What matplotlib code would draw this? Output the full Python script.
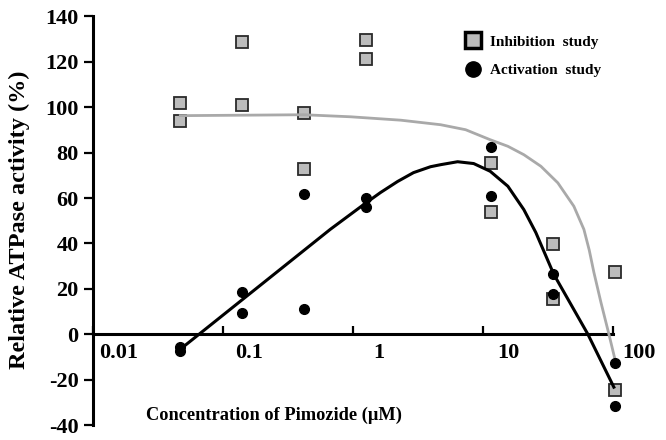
import numpy as np
import matplotlib
matplotlib.use("Agg")
import matplotlib.pyplot as plt
from matplotlib.ticker import NullLocator
from matplotlib.transforms import ScaledTranslation

# Concentrations (uM) where the measurements sit
conc = [0.047, 0.14, 0.42, 1.27, 11.5, 34.5, 104]

# Inhibition study (two replicates per concentration)
inhib_a = [101.8, 128.9, 97.4, 129.7, 75.5, 39.6, 27.4]
inhib_b = [93.8, 100.8, 72.8, 121.2, 53.9, 15.4, -24.5]

# Activation study (two replicates per concentration)
activ_a = [-5.5, 18.8, 61.8, 60.1, 82.5, 26.7, -12.7]
activ_b = [-7.5, 9.2, 11.0, 56.1, 61.1, 17.6, -31.5]

# Fitted curves
inhib_fit_x = [0.047, 0.42, 0.96, 2.34, 4.74, 7.38, 11.4, 15.6, 20.7, 28.0,
               37.8, 50.2, 60.0, 66.0, 71.6, 81.1, 93.5, 104]
inhib_fit_y = [96.3, 96.7, 95.8, 94.3, 92.3, 90.1, 85.7, 82.8, 79.1, 74.0,
               66.7, 56.4, 46.2, 37.0, 27.3, 14.1, 0.0, -11.0]
activ_fit_x = [0.047, 0.67, 1.21, 1.63, 2.21, 2.93, 3.96, 4.74, 6.40, 8.51,
               11.4, 15.6, 20.7, 25.6, 35.2, 64.4, 102]
activ_fit_y = [-6.6, 46.2, 57.1, 62.4, 67.3, 71.2, 73.8, 74.7, 76.0, 75.2,
               71.8, 65.2, 54.9, 44.8, 26.4, 0.0, -23.3]

xticks = [0.01, 0.1, 1, 10, 100]
xticklabels = ["0.01", "0.1", "1", "10", "100"]
yticks = [-40, -20, 0, 20, 40, 60, 80, 100, 120, 140]

plt.rcParams['font.family'] = ['Liberation Serif', 'DejaVu Serif']
plt.rcParams['font.weight'] = 'bold'
plt.rcParams['axes.unicode_minus'] = False

fig = plt.figure(figsize=(6.66, 4.4), dpi=100)
ax = fig.add_axes([0.1396, 0.034, 0.7804, 0.9286])

sq_face = '#bcbcbc'
sq_edge = '#2a2a2a'

# squares first, then grey fit, circles, black fit
ax.plot(conc, inhib_a, 's', ms=8, mfc=sq_face, mec=sq_edge, mew=1.3,
        clip_on=False, zorder=2, label='Inhibition  study')
ax.plot(conc, inhib_b, 's', ms=8, mfc=sq_face, mec=sq_edge, mew=1.3,
        clip_on=False, zorder=2)
ax.plot(inhib_fit_x, inhib_fit_y, '-', color='#a9a9a9', lw=2.0,
        clip_on=False, zorder=3)
ax.plot(conc, activ_a, 'o', ms=7, color='black', clip_on=False, zorder=4,
        label='Activation  study')
ax.plot(conc, activ_b, 'o', ms=7, color='black', clip_on=False, zorder=4)
ax.plot(activ_fit_x, activ_fit_y, '-', color='black', lw=2.2,
        clip_on=False, zorder=5)

ax.set_xscale('log')
ax.set_xlim(0.01, 100)
ax.set_ylim(-40, 140)

ax.spines['top'].set_visible(False)
ax.spines['right'].set_visible(False)
ax.spines['bottom'].set_position(('data', 0))
ax.spines['left'].set_linewidth(2.2)
ax.spines['bottom'].set_linewidth(2.2)

ax.set_yticks(yticks)
ax.tick_params(axis='y', direction='out', length=6.5, width=1.6,
               labelsize=16, pad=4)
ax.set_xticks(xticks)
ax.set_xticklabels(xticklabels)
ax.xaxis.set_minor_locator(NullLocator())
ax.tick_params(axis='x', direction='in', length=6, width=1.6,
               labelsize=16, pad=6)

# x tick labels sit to the right of their ticks in the original
shift = ScaledTranslation(0.26, 0, fig.dpi_scale_trans)
for lab in ax.get_xticklabels():
    lab.set_transform(lab.get_transform() + shift)

ax.set_ylabel('Relative ATPase activity (%)', fontsize=17.5, fontweight='bold')
ax.yaxis.set_label_coords(-0.121, 0.502)
ax.text(0.349, 0.0245, 'Concentration of Pimozide (\u00b5M)', transform=ax.transAxes,
        ha='center', va='center', fontsize=13.2, fontweight='bold')

leg = ax.legend(loc='upper left', bbox_to_anchor=(0.705, 0.97), frameon=False,
                fontsize=11, handlelength=1.0, handletextpad=0.6,
                labelspacing=1.0, borderaxespad=0)
h_sq, h_ci = leg.legend_handles
h_sq.set_markersize(11)
h_sq.set_markeredgewidth(2.5)
h_sq.set_markeredgecolor('black')
h_ci.set_markersize(11)

fig.savefig('out.png', dpi=100)
